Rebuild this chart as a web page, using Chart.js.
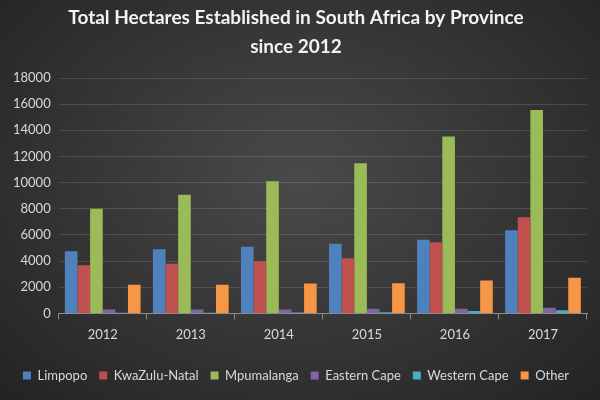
<!DOCTYPE html>
<html>
<head>
<meta charset="utf-8">
<script src="https://cdn.jsdelivr.net/npm/chart.js@4"></script>
<style>
  html, body { margin: 0; padding: 0; }
  body {
    width: 600px;
    height: 400px;
    background: radial-gradient(ellipse at 50% 45%, #4a4a4a 0%, #383838 45%, #232323 100%);
  }
  #wrap { width: 600px; height: 400px; }
</style>
</head>
<body>
<div id="wrap"><canvas id="hectaresChart" width="600" height="400"></canvas></div>
<script>
// ===== DATI =====
const years = ["2012", "2013", "2014", "2015", "2016", "2017"];

const limpopo = [4750, 4900, 5090, 5320, 5640, 6350];
const kwazuluNatal = [3680, 3790, 3990, 4220, 5440, 7350];
const mpumalanga = [8000, 9080, 10100, 11490, 13530, 15560];
const easternCape = [300, 300, 300, 360, 360, 430];
const westernCape = [50, 50, 60, 80, 180, 250];
const other = [2190, 2200, 2290, 2310, 2520, 2720];

const yTicks = [0, 2000, 4000, 6000, 8000, 10000, 12000, 14000, 16000, 18000];

const textColor = "#d9d9d9";
const fontFamily = "Lato, 'Open Sans', sans-serif";

// gradient leggero come nelle barre originali
function barFill(base, light) {
  return (context) => {
    const chart = context.chart;
    const el = context.element;
    if (!chart.chartArea || !el || el.width === undefined) return base;
    const { ctx } = chart;
    const x0 = el.x - el.width / 2;
    const g = ctx.createLinearGradient(x0, 0, x0 + el.width, 0);
    g.addColorStop(0, base);
    g.addColorStop(0.5, light);
    g.addColorStop(1, base);
    return g;
  };
}

const series = [
  { label: "Limpopo", data: limpopo, color: "#4f81bd", light: "#6f9bd6" },
  { label: "KwaZulu-Natal", data: kwazuluNatal, color: "#c0504d", light: "#d77471" },
  { label: "Mpumalanga", data: mpumalanga, color: "#9bbb59", light: "#b5d37a" },
  { label: "Eastern Cape", data: easternCape, color: "#8064a2", light: "#9a80bb" },
  { label: "Western Cape", data: westernCape, color: "#4bacc6", light: "#72c4da" },
  { label: "Other", data: other, color: "#f79646", light: "#fbb072" },
];

const ctx = document.getElementById("hectaresChart").getContext("2d");

new Chart(ctx, {
  type: "bar",
  data: {
    labels: years,
    datasets: series.map((s) => ({
      label: s.label,
      data: s.data,
      backgroundColor: barFill(s.color, s.light),
      borderWidth: 0,
      categoryPercentage: 0.86,
      barPercentage: 1.0,
    })),
  },
  options: {
    responsive: false,
    animation: false,
    layout: { padding: { left: 5, right: 13, top: 2, bottom: 8 } },
    plugins: {
      title: {
        display: true,
        text: ["Total Hectares Established in South Africa by Province", "since 2012"],
        color: "#f2f2f2",
        font: { family: fontFamily, size: 19, weight: "bold", lineHeight: 1.5 },
        padding: { top: 2, bottom: 17 },
      },
      legend: {
        position: "bottom",
        labels: {
          color: textColor,
          font: { family: fontFamily, size: 13 },
          boxWidth: 8,
          boxHeight: 8,
          padding: 12,
          generateLabels: (chart) =>
            series.map((s, i) => ({
              text: s.label,
              fillStyle: s.color,
              strokeStyle: s.color,
              lineWidth: 0,
              datasetIndex: i,
              fontColor: textColor,
            })),
        },
      },
      tooltip: { enabled: false },
    },
    scales: {
      x: {
        grid: {
          display: true,
          drawOnChartArea: false,
          drawTicks: true,
          tickLength: 6,
          color: "#8c8c8c",
        },
        border: { display: true, color: "#8c8c8c" },
        ticks: {
          color: textColor,
          font: { family: fontFamily, size: 13 },
          padding: 8,
        },
        // spazio extra tra etichette anni e legenda
        afterFit: (axis) => {
          axis.height += 6;
        },
      },
      y: {
        min: 0,
        max: 18000,
        afterBuildTicks: (axis) => {
          axis.ticks = yTicks.map((v) => ({ value: v }));
        },
        grid: {
          color: "rgba(255,255,255,0.13)",
          drawTicks: false,
        },
        border: { display: false },
        ticks: {
          color: textColor,
          font: { family: fontFamily, size: 13 },
          padding: 8,
          callback: (value) => String(value),
        },
      },
    },
  },
});
</script>
</body>
</html>
